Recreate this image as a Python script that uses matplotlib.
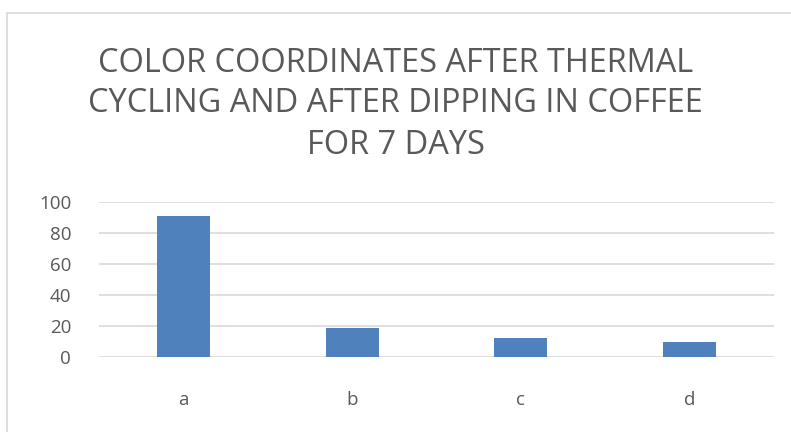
import matplotlib
matplotlib.use("Agg")
import matplotlib.pyplot as plt
from matplotlib.patches import Rectangle

categories = ["a", "b", "c", "d"]
values = [91, 18.7, 12.2, 9.9]
yticks = [0, 20, 40, 60, 80, 100]
title = "COLOR COORDINATES AFTER THERMAL\nCYCLING AND AFTER DIPPING IN COFFEE\nFOR 7 DAYS"

plt.rcParams['font.family'] = ['Open Sans', 'DejaVu Sans']
W, H = 791, 432
fig = plt.figure(figsize=(W/100, H/100), dpi=100)
fig.patch.set_facecolor('white')

# chart frame
fig.patches.append(Rectangle((7/W, -0.05), 1.1, (H-13)/H + 0.05, transform=fig.transFigure,
                             fill=False, edgecolor='#D9D9D9', linewidth=1.2))

ax = fig.add_axes([99/W, (H-357.3)/H, (774-99)/W, (357.3-202)/H])
x = range(len(categories))
ax.bar(x, values, width=0.315, color='#4F81BD', zorder=3)
ax.set_xlim(-0.5, len(categories)-0.5)
ax.set_ylim(0, 100)
ax.set_yticks(yticks)
ax.set_xticks(list(x))
ax.set_xticklabels(categories)
ax.grid(axis='y', color='#D9D9D9', linewidth=1.2, zorder=0)
for s in ax.spines.values():
    s.set_visible(False)
ax.tick_params(axis='both', length=0, colors='#595959', labelsize=13.5)
ax.tick_params(axis='x', pad=24)
ax.tick_params(axis='y', pad=20)

fig.text(0.5, (H-104)/H, title, ha='center', va='center', fontsize=23.4,
         color='#595959', linespacing=1.32)

fig.savefig('out.png', dpi=100)
